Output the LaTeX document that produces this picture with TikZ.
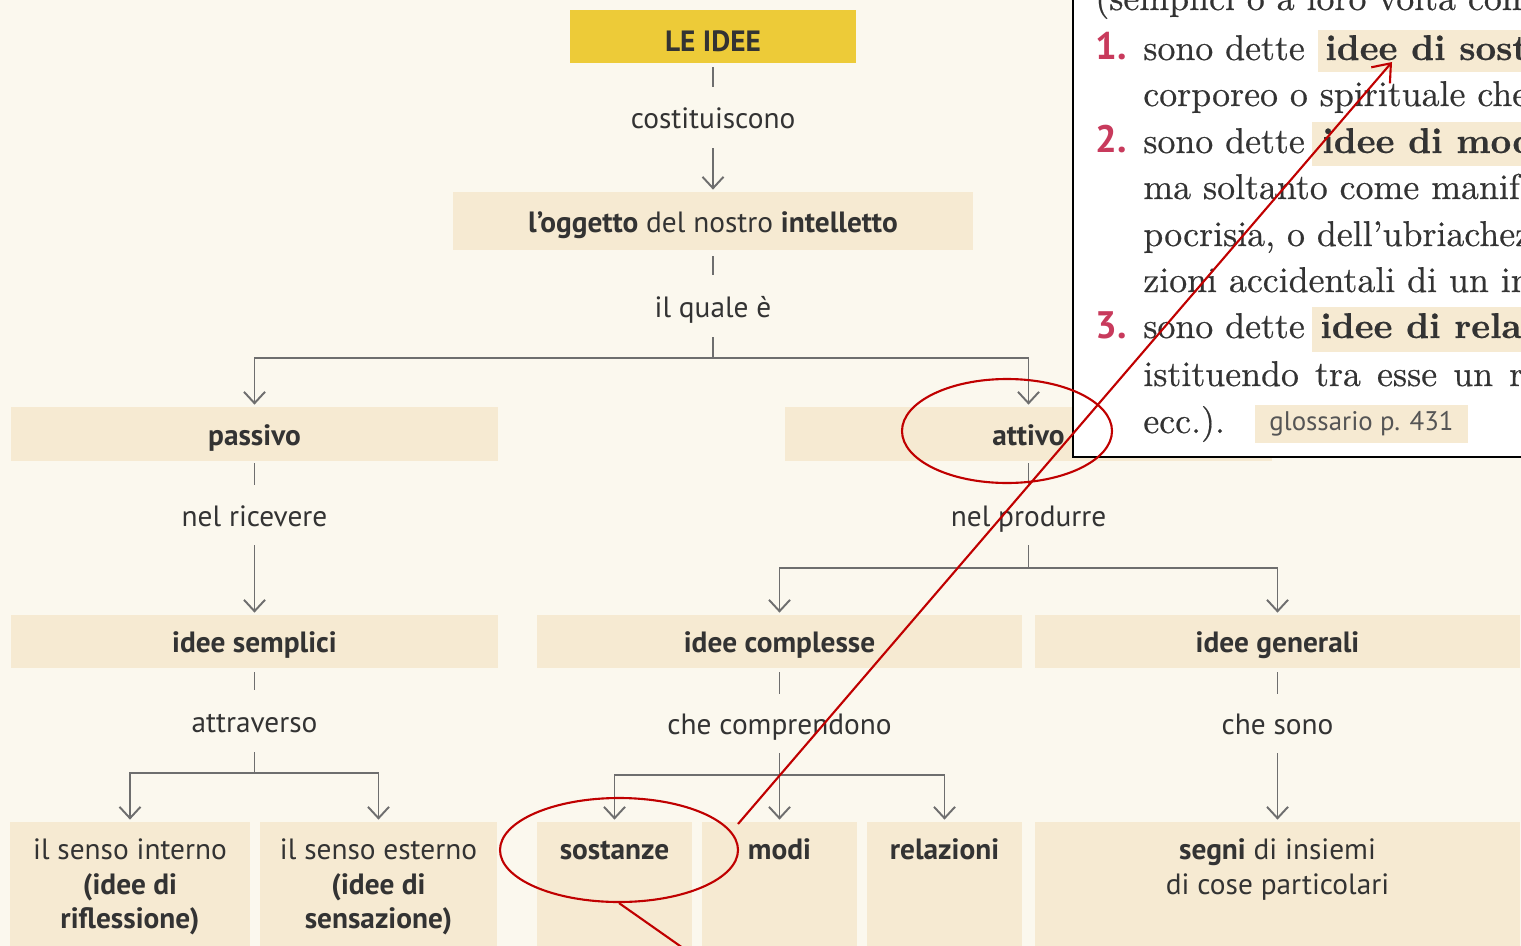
\documentclass[tikz,border=0pt]{standalone}
\usepackage{fontspec}
\setsansfont{PT Sans}
\newfontfamily\pserif{lmroman10}[Extension=.otf, UprightFont=*-regular, BoldFont=*-bold, FakeBold=0.5]
\usetikzlibrary{arrows.meta,shapes.geometric}
\newlength\upx \setlength\upx{0.02cm}
\definecolor{bgc}{HTML}{FBF8EE}
\definecolor{boxc}{HTML}{F6EAD2}
\definecolor{yel}{HTML}{EDCB38}
\definecolor{linec}{HTML}{6E6E6E}
\definecolor{txtc}{HTML}{333333}
\definecolor{redc}{HTML}{C00000}
\definecolor{numc}{HTML}{C83A5C}
\definecolor{glc}{HTML}{555555}
\newcommand\dsz{\fontsize{16.7}{19.8}\selectfont}
\newcommand\ssz{\fontsize{20.4}{24}\selectfont}
\tikzset{
  box/.style={fill=boxc, draw=none, inner sep=0},
  tnorm/.style={text height=13pt, text depth=0pt},
  ttl/.style={font=\sffamily\bfseries\dsz, text=txtc, tnorm},
  lab/.style={font=\sffamily\dsz, text=txtc, inner sep=0, align=center},
  conn/.style={draw=linec, line width=1.1pt},
  arr/.style={conn, -{Straight Barb[length=6.5pt,width=12pt]}, shorten >=2\upx},
  sline/.style={font=\pserif\ssz, text=txtc, anchor=base west, inner sep=0},
  num/.style={font=\sffamily\bfseries\fontsize{21.8}{26}\selectfont, text=numc, anchor=base west, inner sep=0},
  redl/.style={draw=redc, line width=1.2pt},
  redell/.style={redl, ellipse, inner sep=0}
}
\begin{document}
\begin{tikzpicture}[x=0.02cm,y=-0.02cm]
\clip (0,0) rectangle (1521,946);
\fill[bgc] (0,0) rectangle (1521,946);

% boxes
\node[box, fill=yel, minimum width=286\upx, minimum height=53\upx, ttl, text height=17.6pt, text depth=0pt] (idee) at (713,36.5) {LE IDEE};
\node[box, minimum width=520\upx, minimum height=58\upx, font=\sffamily\dsz, text=txtc, tnorm] (ogg) at (713,221) {\textbf{l’oggetto} del nostro \textbf{intelletto}};
\node[box, minimum width=487\upx, minimum height=54\upx, ttl] (pass) at (254.5,434) {passivo};
\node[box, minimum width=487\upx, minimum height=54\upx, ttl] (att) at (1028.5,434) {attivo};
\node[box, minimum width=487\upx, minimum height=53\upx, ttl] (sempl) at (254.5,641.5) {idee semplici};
\node[box, minimum width=485\upx, minimum height=53\upx, ttl] (compl) at (779.5,641.5) {idee complesse};
\node[box, minimum width=485\upx, minimum height=53\upx, ttl] (gener) at (1277.5,641.5) {idee generali};
\node[box, minimum width=240\upx, minimum height=138\upx] (int) at (130,891) {};
\node[box, minimum width=237\upx, minimum height=138\upx] (est) at (378.5,891) {};
\node[box, minimum width=155\upx, minimum height=138\upx] (sost) at (614.5,891) {};
\node[box, minimum width=155\upx, minimum height=138\upx] (modi) at (779.5,891) {};
\node[box, minimum width=155\upx, minimum height=138\upx] (rel) at (944.5,891) {};
\node[box, minimum width=485\upx, minimum height=138\upx] (segni) at (1277.5,891) {};

% texts of bottom boxes
\node[lab] (tint) at (130,887) {il senso interno\\\textbf{(idee di}\\\textbf{riflessione)}};
\node[lab] (test) at (378.5,887) {il senso esterno\\\textbf{(idee di}\\\textbf{sensazione)}};
\node[lab, font=\sffamily\bfseries\dsz, tnorm] (tsost) at (614.5,848) {sostanze};
\node[lab, font=\sffamily\bfseries\dsz, tnorm] (tmodi) at (779.5,848) {modi};
\node[lab, font=\sffamily\bfseries\dsz, tnorm] (trel) at (944.5,848) {relazioni};
\node[lab] (tsegni) at (1277.5,869.5) {\textbf{segni} di insiemi\\di cose particolari};

% labels
\node[lab, tnorm, minimum height=61\upx] (cost) at (713,117.5) {costituiscono};
\node[lab, tnorm, minimum height=62\upx] (qual) at (713,306) {il quale è};
\node[lab, tnorm, minimum height=60\upx] (nric) at (254.5,515) {nel ricevere};
\node[lab, tnorm, minimum height=60\upx] (nprod) at (1028.5,515) {nel produrre};
\node[lab, tnorm, minimum height=62\upx] (attr) at (254.5,721) {attraverso};
\node[lab, tnorm, minimum height=59\upx] (chec) at (779.5,723.5) {che comprendono};
\node[lab, tnorm, minimum height=59\upx] (ches) at (1277.5,723.5) {che sono};

% connectors
\draw[conn, shorten <=4\upx] (idee.south) -- (cost.north);
\draw[arr] (cost.south) -- (ogg.north);
\draw[conn, shorten <=6\upx] (ogg.south) -- (qual.north);
\draw[conn] (qual.south) -- ++(0,21) coordinate (j1);
\draw[arr] (j1) -| (pass.north);
\draw[arr] (j1) -| (att.north);
\draw[conn, shorten <=2\upx] (pass.south) -- (nric.north);
\draw[arr] (nric.south) -- (sempl.north);
\draw[conn, shorten <=4\upx] (sempl.south) -- (attr.north);
\draw[conn] (attr.south) -- ++(0,21) coordinate (j2);
\draw[arr] (j2) -| (int.north);
\draw[arr] (j2) -| (est.north);
\draw[conn, shorten <=2\upx] (att.south) -- (nprod.north);
\draw[conn] (nprod.south) -- ++(0,23) coordinate (j3);
\draw[arr] (j3) -| (compl.north);
\draw[arr] (j3) -| (gener.north);
\draw[conn, shorten <=4\upx] (compl.south) -- (chec.north);
\draw[arr] (chec.south) -- (modi.north);
\path (chec.south) ++(0,22) coordinate (j4);
\draw[arr] (j4) -| (sost.north);
\draw[arr] (j4) -| (rel.north);
\draw[conn, shorten <=4\upx] (gener.south) -- (ches.north);
\draw[arr] (ches.south) -- (segni.north);

% glossary panel
\node[draw=black, fill=white, line width=1.2pt, minimum width=467\upx, minimum height=477\upx, inner sep=0] (panel) at (1306.5,218.5) {};
\fill[boxc] (1318,30) rectangle (1530,72);
\fill[boxc] (1312,122) rectangle (1530,166);
\fill[boxc] (1312,307) rectangle (1530,352);
\node[box, minimum width=213\upx, minimum height=38\upx, font=\sffamily\fontsize{15.3}{18}\selectfont, text=glc] (gloss) at (1361.5,424) {glossario p. 431};
\node[sline] (l0) at (1095,10) {(semplici o a loro volta comp};
\node[num] (n1) at (1095,60) {1.};
\node[sline] (l1) at (1143,60) {sono dette};
\node[sline, font=\pserif\bfseries\ssz] (l1b) at (1325,60) {idee di sosta};
\node[sline] (l2) at (1143,106) {corporeo o spirituale che};
\node[num] (n2) at (1095,153) {2.};
\node[sline] (l3) at (1143,153) {sono dette};
\node[sline, font=\pserif\bfseries\ssz] (l3b) at (1322,153) {idee di mod};
\node[sline] (l4) at (1143,199) {ma soltanto come manif};
\node[sline] (l5) at (1143,246) {pocrisia, o dell’ubriachez};
\node[sline] (l6) at (1143,292) {zioni accidentali di un in};
\node[num] (n3) at (1095,338) {3.};
\node[sline] (l7) at (1143,338) {sono dette};
\node[sline, font=\pserif\bfseries\ssz] (l7b) at (1320,338) {idee di relaz};
\node[sline] (l8) at (1143,386) {istituendo\hspace{0.45em}tra\hspace{0.45em}esse\hspace{0.45em}un\hspace{0.45em}ra};
\node[sline] (l9) at (1143,433) {ecc.).};

% red annotations
\node[redell, minimum width=210\upx, minimum height=104\upx] (ellA) at (1007,431) {};
\node[redell, minimum width=238\upx, minimum height=104\upx] (ellS) at (619,850) {};
\coordinate (rs) at (738,824);
\coordinate (rt) at (1392,62);
\coordinate (rb) at (700,960);
\draw[redl, -{Straight Barb[length=9pt,width=14pt]}] (rs) -- (rt);
\draw[redl] (ellS.south) -- (rb);
\end{tikzpicture}
\end{document}
